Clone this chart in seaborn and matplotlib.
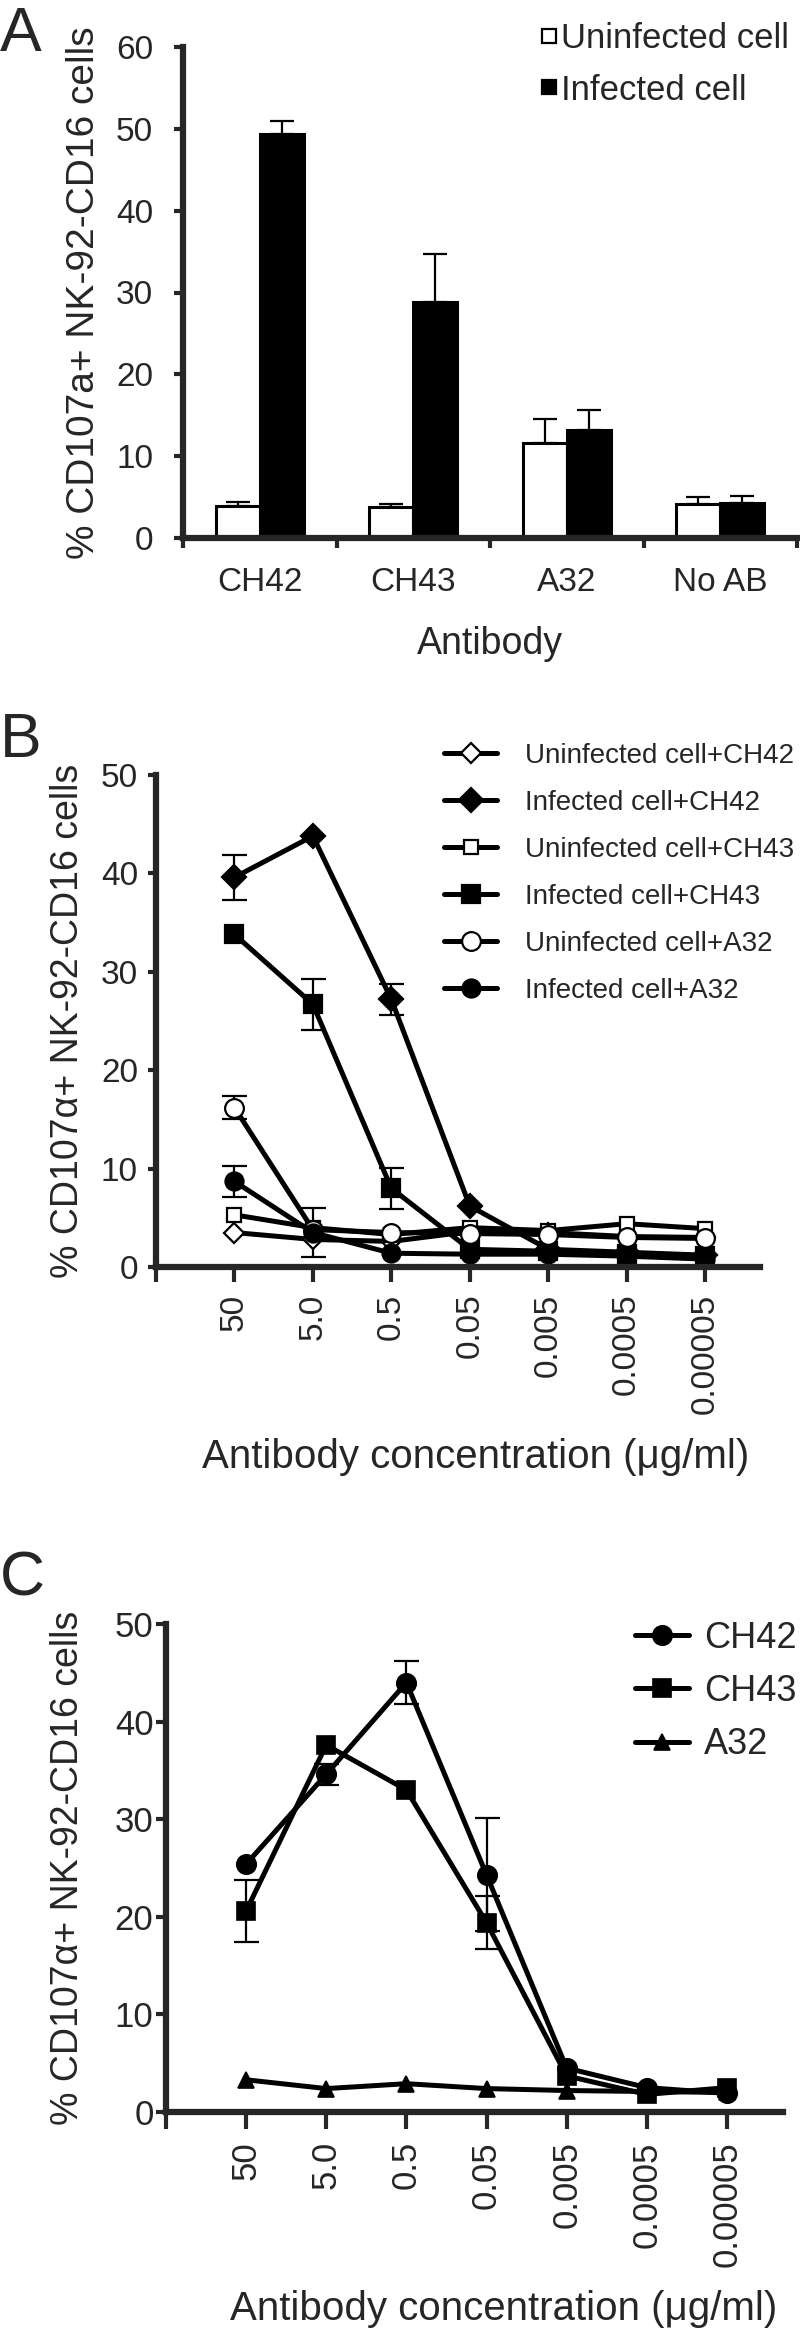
import numpy as np
import pandas as pd
import matplotlib
matplotlib.use("Agg")
import matplotlib.pyplot as plt
import seaborn as sns
from matplotlib.lines import Line2D

# ---- panel A data ----
antibodies = ["CH42", "CH43", "A32", "No AB"]
uninfected_a = [3.9, 3.8, 11.6, 4.2]
uninfected_a_err = [0.5, 0.3, 3.0, 0.8]
infected_a = [49.4, 28.8, 13.2, 4.3]
infected_a_err = [1.6, 5.9, 2.4, 0.8]

# ---- panel B data ----
conc_labels = ["50", "5.0", "0.5", "0.05", "0.005", "0.0005", "0.00005"]
b_uninf_ch42 = [3.5, 2.8, 2.6, 3.6, 3.5, 3.1, 3.0]
b_inf_ch42 = [39.6, 43.8, 27.2, 6.2, 1.8, 1.5, 1.2]
b_uninf_ch43 = [5.3, 4.0, 3.3, 4.0, 3.7, 4.4, 3.9]
b_inf_ch43 = [33.8, 26.7, 8.0, 1.8, 1.6, 1.3, 1.1]
b_uninf_a32 = [16.2, 3.8, 3.5, 3.4, 3.3, 3.0, 2.9]
b_inf_a32 = [8.7, 3.5, 1.4, 1.3, 1.3, 1.1, 0.8]
b_uninf_ch42_err = [0, 0, 0, 0, 0, 0, 0]
b_inf_ch42_err = [2.3, 0, 1.6, 0, 0, 0, 0]
b_uninf_ch43_err = [0, 0, 0, 0, 0, 0, 0]
b_inf_ch43_err = [0, 2.6, 2.1, 0, 0, 0, 0]
b_uninf_a32_err = [1.2, 0, 0, 0, 0, 0, 0]
b_inf_a32_err = [1.6, 2.5, 0, 0, 0, 0, 0]

# ---- panel C data ----
c_ch42 = [25.4, 34.6, 44.0, 24.3, 4.5, 2.5, 1.9]
c_ch43 = [20.6, 37.6, 33.0, 19.4, 3.7, 1.8, 2.5]
c_a32 = [3.3, 2.4, 2.9, 2.4, 2.2, 2.1, 2.0]
c_ch42_err = [0, 1.1, 2.2, 5.8, 0, 0, 0]
c_ch43_err = [3.2, 0, 0, 2.7, 0, 0, 0]
c_a32_err = [0, 0, 0, 0, 0, 0, 0]

sns.set_style("ticks")
plt.rcParams["font.family"] = ["Liberation Sans", "DejaVu Sans"]

W, H = 800, 2335
fig = plt.figure(figsize=(W / 100, H / 100), dpi=100)


def px_axes(left, right, top, bottom):
    return fig.add_axes([left / W, 1 - bottom / H, (right - left) / W, (bottom - top) / H])


def style_axes(ax):
    sns.despine(ax=ax)
    for s in ["left", "bottom"]:
        ax.spines[s].set_linewidth(4.5)
        ax.spines[s].set_capstyle("projecting")


def add_errors(ax, x, y, err, capsize=9):
    x, y, err = np.asarray(x), np.asarray(y), np.asarray(err)
    m = err > 0
    if m.any():
        ax.errorbar(x[m], y[m], yerr=err[m], fmt="none", ecolor="black",
                    elinewidth=1.6, capsize=capsize, capthick=1.6, zorder=1.5, clip_on=False)


def place_legend(handles, labels, fs, hl, htp, first_y, last_y, text_x):
    # build legend, measure where the labels land, nudge anchor/spacing, rebuild
    ls = 0.5
    ax_, ay_ = text_x / W - 0.05, 1 - first_y / H
    kw = dict(loc="upper left", frameon=False, fontsize=fs, handlelength=hl,
              handletextpad=htp, borderpad=0, borderaxespad=0)
    for _ in range(3):
        leg = fig.legend(handles, labels, bbox_to_anchor=(ax_, ay_), labelspacing=ls, **kw)
        fig.canvas.draw()
        r = fig.canvas.get_renderer()
        bbs = [t.get_window_extent(r) for t in leg.get_texts()]
        c0 = H - (bbs[0].y0 + bbs[0].y1) / 2
        cn = H - (bbs[-1].y0 + bbs[-1].y1) / 2
        n = len(bbs) - 1
        ls += ((last_y - first_y) / n - (cn - c0) / n) / (fs * 100 / 72)
        ax_ += (text_x - bbs[0].x0) / W
        ay_ -= (first_y - c0) / H
        leg.remove()
    return fig.legend(handles, labels, bbox_to_anchor=(ax_, ay_), labelspacing=ls, **kw)


# ================= A =================
axA = px_axes(183, 797, 47, 538)
df_a = pd.DataFrame({
    "Antibody": antibodies * 2,
    "Cell": ["Uninfected cell"] * 4 + ["Infected cell"] * 4,
    "value": uninfected_a + infected_a,
})
sns.barplot(data=df_a, x="Antibody", y="value", hue="Cell", palette=["white", "black"],
            edgecolor="black", linewidth=2.2, errorbar=None, width=0.575, ax=axA, zorder=2)
axA.get_legend().remove()
for cont, vals, errs in zip(axA.containers, [uninfected_a, infected_a],
                            [uninfected_a_err, infected_a_err]):
    xs = [p.get_x() + p.get_width() / 2 for p in cont.patches]
    axA.errorbar(xs, vals, yerr=[np.zeros(len(errs)), errs], fmt="none", ecolor="black",
                 elinewidth=1.6, capsize=8.5, capthick=1.6, zorder=1)
style_axes(axA)
axA.set_ylim(0, 60)
axA.set_xlim(-0.5, 3.5)
axA.set_yticks(range(0, 61, 10))
axA.set_xticks([-0.5, 0.5, 1.5, 2.5, 3.5])
axA.set_xticklabels([])
axA.set_xticks(range(4), minor=True)
axA.set_xticklabels(antibodies, minor=True)
axA.tick_params(axis="x", which="major", length=7, width=3, direction="out")
axA.tick_params(axis="x", which="minor", length=0, pad=21, labelsize=24)
axA.tick_params(axis="y", length=6.5, width=3, pad=15, labelsize=24)
axA.set_ylabel("")
axA.set_xlabel("Antibody", fontsize=27)
axA.xaxis.set_label_coords(0.5, -0.179)
fig.text(84 / W, 1 - 293 / H, "% CD107a+ NK-92-CD16 cells", rotation=90,
         ha="center", va="center", fontsize=28)
fig.text(0, 1 - 51 / H, "A", fontsize=45, ha="left", va="baseline")

# ================= B =================
xpos = np.arange(1, 8)
axB = px_axes(156, 760, 775, 1267)
b_series = [
    ("Uninfected cell+CH42", b_uninf_ch42, b_uninf_ch42_err, "D", "white", 10.5),
    ("Infected cell+CH42", b_inf_ch42, b_inf_ch42_err, "D", "black", 12.5),
    ("Uninfected cell+CH43", b_uninf_ch43, b_uninf_ch43_err, "s", "white", 10.5),
    ("Infected cell+CH43", b_inf_ch43, b_inf_ch43_err, "s", "black", 13.5),
    ("Uninfected cell+A32", b_uninf_a32, b_uninf_a32_err, "o", "white", 13.5),
    ("Infected cell+A32", b_inf_a32, b_inf_a32_err, "o", "black", 13),
]
# filled series drawn first, open ones on top
draw_order = [1, 3, 5, 4, 2, 0]
handles_b = {}
for i in draw_order:
    name, vals, errs, mk, fc, ms = b_series[i]
    sns.lineplot(x=xpos, y=vals, ax=axB, color="black", linewidth=3.6, marker=mk,
                 markersize=ms, markerfacecolor=fc, markeredgecolor="black",
                 markeredgewidth=1.6, errorbar=None, clip_on=False, zorder=2 + i * 0.01)
    handles_b[i] = axB.lines[-1]
    add_errors(axB, xpos, vals, errs)
style_axes(axB)
axB.set_xlim(0, 7.7)
axB.set_ylim(0, 50)
axB.set_yticks(range(0, 51, 10))
axB.set_xticks(range(0, 8))
axB.set_xticklabels([""] + conc_labels, rotation=90, va="top", ha="center")
axB.tick_params(axis="x", length=11, width=3, pad=8, labelsize=24)
axB.tick_params(axis="y", length=6, width=3, pad=7, labelsize=24)
axB.set_ylabel("")
axB.set_xlabel("Antibody concentration (\u03bcg/ml)", fontsize=29)
axB.xaxis.set_label_coords(0.53, -0.347)
fig.text(68 / W, 1 - 1021 / H, "% CD107\u03b1+ NK-92-CD16 cells", rotation=90,
         ha="center", va="center", fontsize=27)
fig.text(0, 1 - 757 / H, "B", fontsize=45, ha="left", va="baseline")

# ================= C =================
axC = px_axes(166, 783, 1624, 2112)
c_series = [
    ("CH42", c_ch42, c_ch42_err, "o", 14),
    ("CH43", c_ch43, c_ch43_err, "s", 13.5),
    ("A32", c_a32, c_a32_err, "^", 12),
]
handles_c = []
for name, vals, errs, mk, ms in c_series:
    sns.lineplot(x=xpos, y=vals, ax=axC, color="black", linewidth=3.6, marker=mk,
                 markersize=ms, markerfacecolor="black", markeredgecolor="black",
                 markeredgewidth=1.2, errorbar=None, clip_on=False, zorder=2)
    handles_c.append(axC.lines[-1])
    add_errors(axC, xpos, vals, errs)
style_axes(axC)
axC.set_xlim(0, 7.7)
axC.set_ylim(0, 50)
axC.set_yticks(range(0, 51, 10))
axC.set_xticks(range(0, 8))
axC.set_xticklabels([""] + conc_labels, rotation=90, va="top", ha="center")
axC.tick_params(axis="x", length=12, width=3, pad=9, labelsize=25)
axC.tick_params(axis="y", length=7, width=3, pad=2, labelsize=25)
axC.set_ylabel("")
axC.set_xlabel("Antibody concentration (\u03bcg/ml)", fontsize=29)
axC.xaxis.set_label_coords(0.548, -0.365)
fig.text(68 / W, 1 - 1868 / H, "% CD107\u03b1+ NK-92-CD16 cells", rotation=90,
         ha="center", va="center", fontsize=27)
fig.text(0, 1 - 1595 / H, "C", fontsize=45, ha="left", va="baseline")

# ---- legends ----
leg_a = [Line2D([], [], marker="s", ls="none", mfc="white", mec="black", ms=10.5, mew=1.6),
         Line2D([], [], marker="s", ls="none", mfc="black", mec="black", ms=10.5, mew=1.6)]
place_legend(leg_a, ["Uninfected cell", "Infected cell"], 25, 0.6, 0.05, 39, 90, 561)
place_legend([handles_b[i] for i in range(6)], [s[0] for s in b_series],
             20, 1.9, 1.0, 756, 991, 525)
place_legend(handles_c, [s[0] for s in c_series], 26, 1.5, 0.42, 1638, 1745, 704)

fig.savefig("out.png", dpi=100, facecolor="white")
